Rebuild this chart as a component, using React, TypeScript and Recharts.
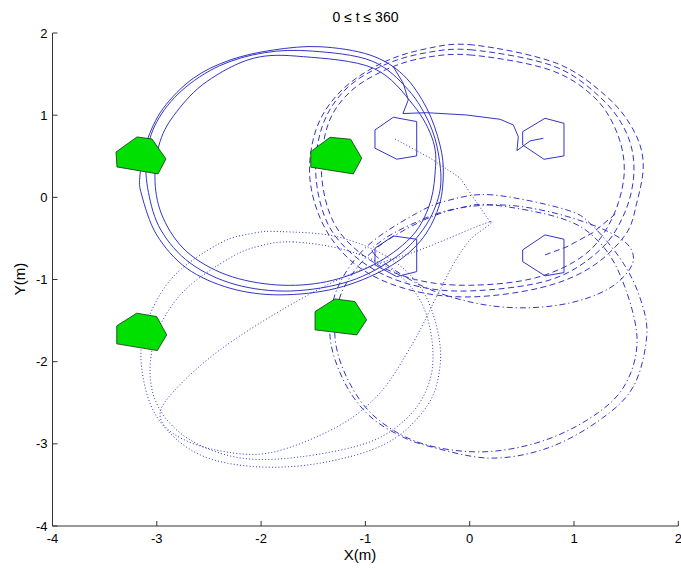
import React from 'react';
import { ComposedChart, Line, Scatter, XAxis, YAxis } from 'recharts';

type P = [number, number];

// ---------- axis ticks ----------
const xTicks = [-4, -3, -2, -1, 0, 1, 2];
const yTicks = [-4, -3, -2, -1, 0, 1, 2];
const titleText = '0 \u2264 t \u2264 360';
const xLabelText = 'X(m)';
const yLabelText = 'Y(m)';

// ---------- solid trajectory (upper-left) ----------
const solidStart: P[] = [[0.706, 0.719], [0.578, 0.686], [0.453, 0.568], [0.466, 0.738], [0.418, 0.881], [0.291, 0.95], [-0.029, 1.002], [-0.412, 1.03], [-0.64, 1.02], [-0.589, 1.185], [-0.637, 1.388], [-0.733, 1.59]];
const solidLoop1: P[] = [[-1.435, 1.833], [-0.956, 1.732], [-0.637, 1.489], [-0.412, 1.084], [-0.285, 0.637], [-0.253, 0.273], [-0.301, -0.133], [-0.477, -0.539], [-0.796, -0.863], [-1.275, -1.106], [-1.819, -1.187], [-2.298, -1.106], [-2.713, -0.863], [-3.001, -0.457], [-3.145, 0.029], [-3.161, 0.273], [-3.097, 0.678], [-2.938, 1.084], [-2.65, 1.449], [-2.298, 1.671], [-1.883, 1.793]];
const solidLoop2: P[] = [[-1.51, 1.78], [-0.94, 1.66], [-0.59, 1.31], [-0.38, 0.88], [-0.29, 0.45], [-0.29, 0.05], [-0.43, -0.36], [-0.7, -0.72], [-1.15, -1.02], [-1.72, -1.14], [-2.25, -1.06], [-2.68, -0.8], [-2.96, -0.4], [-3.08, 0.06], [-3.1, 0.5], [-3.0, 0.92], [-2.76, 1.3], [-2.4, 1.6], [-1.97, 1.76]];
const solidLoop3: P[] = [[-1.595, 1.712], [-0.924, 1.571], [-0.541, 1.124], [-0.349, 0.678], [-0.333, 0.273], [-0.397, -0.133], [-0.572, -0.498], [-0.924, -0.822], [-1.371, -1.026], [-1.85, -1.066], [-2.33, -0.944], [-2.713, -0.661], [-2.938, -0.254], [-3.017, 0.191], [-2.969, 0.678], [-2.809, 1.043], [-2.522, 1.408], [-2.075, 1.692]];

// ---------- dashed trajectory (upper-right) ----------
const dashedStart: P[] = [[0.722, -0.701], [0.933, -0.601], [1.18, -0.43], [1.4, -0.2]];
const dashedLoop1: P[] = [[0.035, 1.854], [-0.429, 1.805], [-0.86, 1.623], [-1.244, 1.282], [-1.474, 0.82], [-1.531, 0.212], [-1.378, -0.397], [-1.052, -0.859], [-0.573, -1.127], [0.003, -1.212], [0.674, -1.102], [1.153, -0.859], [1.49, -0.46], [1.601, -0.072], [1.664, 0.415], [1.569, 0.82], [1.314, 1.225], [0.834, 1.631]];
const dashedLoop2: P[] = [[0.032, 1.793], [-0.429, 1.757], [-0.841, 1.599], [-1.196, 1.306], [-1.416, 0.856], [-1.474, 0.248], [-1.34, -0.372], [-1.004, -0.81], [-0.553, -1.066], [0.003, -1.139], [0.77, -1.005], [1.249, -0.64], [1.489, -0.178], [1.575, 0.333], [1.499, 0.795], [1.249, 1.22], [0.799, 1.599]];
const dashedLoop3: P[] = [[0.03, 1.73], [-0.43, 1.7], [-0.81, 1.55], [-1.15, 1.28], [-1.36, 0.88], [-1.42, 0.27], [-1.29, -0.34], [-0.96, -0.76], [-0.52, -1.0], [0.0, -1.07], [0.63, -0.98], [1.1, -0.7], [1.36, -0.27], [1.48, 0.27], [1.42, 0.76], [1.2, 1.21], [0.77, 1.55]];

// ---------- dotted trajectory (lower-left) ----------
const dottedStart: P[] = [[-0.716, 0.71], [-0.381, 0.479], [-0.093, 0.236], [0.07, -0.068], [0.195, -0.299]];
const dottedLoop1: P[] = [[-1.819, -0.417], [-1.275, -0.478], [-0.796, -0.721], [-0.477, -1.086], [-0.317, -1.573], [-0.285, -2.06], [-0.412, -2.546], [-0.796, -2.992], [-1.435, -3.235], [-2.075, -3.276], [-2.619, -3.113], [-3.002, -2.667], [-3.146, -2.06], [-3.098, -1.532], [-2.842, -0.965], [-2.394, -0.558], [-2.075, -0.437]];
const dottedLoop2: P[] = [[-1.692, -0.543], [-1.196, -0.64], [-0.745, -0.883], [-0.477, -1.248], [-0.362, -1.735], [-0.381, -2.222], [-0.572, -2.648], [-0.956, -2.976], [-1.627, -3.159], [-2.202, -3.171], [-2.681, -2.952], [-2.969, -2.587], [-3.065, -2.137], [-2.988, -1.614], [-2.729, -1.127], [-2.298, -0.737], [-2.01, -0.591]];
const dottedLoop3: P[] = [[0.195, -0.299], [0.003, -0.518], [-0.16, -0.822], [-0.333, -1.248], [-0.544, -1.771], [-0.86, -2.38], [-1.272, -2.793], [-1.915, -3.109], [-2.442, -3.073], [-2.825, -2.89], [-2.969, -2.647], [-2.825, -2.343], [-2.394, -1.856], [-1.752, -1.333], [-1.119, -0.92], [-0.477, -0.64]];

// ---------- dash-dot trajectory (lower-right) ----------
const dashDotLoop1: P[] = [[0.226, 0.029], [-0.189, -0.032], [-0.508, -0.193], [-0.988, -0.6], [-1.275, -1.127], [-1.339, -1.695], [-1.212, -2.221], [-0.988, -2.627], [-0.7, -2.88], [-0.381, -3.033], [0.195, -3.174], [0.75, -3.05], [1.249, -2.708], [1.569, -2.303], [1.697, -1.695], [1.64, -1.25], [1.473, -0.802], [1.185, -0.356], [0.93, -0.153]];
const dashDotLoop2: P[] = [[0.223, -0.093], [-0.093, -0.129], [-0.477, -0.299], [-0.937, -0.664], [-1.225, -1.151], [-1.292, -1.698], [-1.167, -2.222], [-0.908, -2.672], [-0.477, -2.988], [0.099, -3.098], [0.674, -2.976], [1.173, -2.672], [1.489, -2.282], [1.604, -1.698], [1.442, -0.944], [1.202, -0.494], [0.866, -0.251]];
const dashDotLoop3: P[] = [[-0.908, -0.701], [-0.86, -0.543], [-0.572, -0.336], [-0.189, -0.153], [0.291, -0.092], [0.77, -0.178], [1.249, -0.372], [1.518, -0.579], [1.556, -0.822], [1.345, -1.102], [0.962, -1.285], [0.482, -1.345], [0.003, -1.273], [-0.477, -1.066]];

// ---------- obstacles (green) ----------
const obstacle1: P[] = [[-3.391, 0.552], [-3.19, 0.735], [-3.046, 0.71], [-2.912, 0.467], [-2.988, 0.285], [-3.382, 0.37], [-3.391, 0.552]];
const obstacle2: P[] = [[-1.524, 0.556], [-1.339, 0.731], [-1.141, 0.707], [-1.035, 0.476], [-1.116, 0.285], [-1.524, 0.367], [-1.524, 0.556]];
const obstacle3: P[] = [[-3.384, -1.564], [-3.193, -1.41], [-3.001, -1.451], [-2.905, -1.674], [-2.995, -1.865], [-3.384, -1.783], [-3.384, -1.564]];
const obstacle4: P[] = [[-1.483, -1.39], [-1.291, -1.236], [-1.1, -1.269], [-0.988, -1.491], [-1.083, -1.674], [-1.483, -1.613], [-1.483, -1.39]];

// ---------- robot outlines (hexagons) ----------
const robot1: P[] = [[-0.908, 0.82], [-0.732, 0.975], [-0.508, 0.922], [-0.508, 0.504], [-0.7, 0.464], [-0.908, 0.598], [-0.908, 0.82]];
const robot2: P[] = [[0.508, 0.799], [0.722, 0.962], [0.904, 0.901], [0.904, 0.504], [0.712, 0.463], [0.508, 0.637], [0.508, 0.799]];
const robot3: P[] = [[-0.908, -0.619], [-0.732, -0.47], [-0.508, -0.51], [-0.508, -0.904], [-0.7, -0.965], [-0.908, -0.822], [-0.908, -0.619]];
const robot4: P[] = [[0.508, -0.64], [0.722, -0.457], [0.904, -0.51], [0.904, -0.916], [0.722, -0.956], [0.508, -0.782], [0.508, -0.64]];

const toPts = (a: P[]) => a.map(([x, y]) => ({ x, y }));

// closed Catmull-Rom curve factory (works on library-projected points)
const closedSmooth: any = (context: any) => {
  let pts: number[][] = [];
  return {
    areaStart() {},
    areaEnd() {},
    lineStart() { pts = []; },
    point(x: number, y: number) { pts.push([+x, +y]); },
    lineEnd() {
      const n = pts.length;
      if (!n) return;
      context.moveTo(pts[0][0], pts[0][1]);
      for (let i = 0; i < n; i++) {
        const p0 = pts[(i - 1 + n) % n];
        const p1 = pts[i];
        const p2 = pts[(i + 1) % n];
        const p3 = pts[(i + 2) % n];
        context.bezierCurveTo(
          p1[0] + (p2[0] - p0[0]) / 6, p1[1] + (p2[1] - p0[1]) / 6,
          p2[0] - (p3[0] - p1[0]) / 6, p2[1] - (p3[1] - p1[1]) / 6,
          p2[0], p2[1]
        );
      }
      context.closePath();
    },
  };
};

const BLUE = '#3434c6';
const GREEN = '#00e000';
const FONT = '"Liberation Sans", Arial, Helvetica, sans-serif';

const SOLID = undefined;
const DASH = '6 3.5';
const DOT = '1 2.2';
const DASHDOT = '6 3 1.2 3';

const loops: { data: P[]; dash?: string }[] = [
  { data: solidLoop1, dash: SOLID }, { data: solidLoop2, dash: SOLID }, { data: solidLoop3, dash: SOLID },
  { data: dashedLoop1, dash: DASH }, { data: dashedLoop2, dash: DASH }, { data: dashedLoop3, dash: DASH },
  { data: dottedLoop1, dash: DOT }, { data: dottedLoop2, dash: DOT }, { data: dottedLoop3, dash: DOT },
  { data: dashDotLoop1, dash: DASHDOT }, { data: dashDotLoop2, dash: DASHDOT }, { data: dashDotLoop3, dash: DASHDOT },
];
const starts: { data: P[]; dash?: string }[] = [
  { data: solidStart, dash: SOLID },
  { data: dashedStart, dash: DASH },
  { data: dottedStart, dash: DOT },
];
const obstacles = [obstacle1, obstacle2, obstacle3, obstacle4];
const robots = [robot1, robot2, robot3, robot4];

const tickStyle = { fontSize: 13, fill: '#000', fontFamily: FONT };

export default function App() {
  return (
    <div style={{ position: 'absolute', left: 0, top: 0, width: 681, height: 568, background: '#fff' }}>
      <div style={{ position: 'absolute', left: 52.5, width: 626, top: 9, textAlign: 'center', fontFamily: FONT, fontSize: 14, lineHeight: '16px', color: '#000' }}>
        {titleText}
      </div>
      <div style={{ position: 'absolute', left: 47, width: 626, top: 546, textAlign: 'center', fontFamily: FONT, fontSize: 15, lineHeight: '17px', color: '#000' }}>
        {xLabelText}
      </div>
      <div style={{ position: 'absolute', left: 20, top: 279, width: 0, height: 0 }}>
        <div style={{ position: 'absolute', left: -40, top: -9, width: 80, textAlign: 'center', transform: 'rotate(-90deg)', fontFamily: FONT, fontSize: 15, color: '#000', lineHeight: '18px' }}>
          {yLabelText}
        </div>
      </div>
      <ComposedChart width={681} height={568} margin={{ top: 33, right: 2.7, bottom: 2, left: 2.5 }}>
        <XAxis
          type="number"
          dataKey="x"
          domain={[-4, 2]}
          ticks={xTicks}
          allowDataOverflow
          height={40}
          tickSize={-5}
          tickMargin={13}
          tick={tickStyle}
          stroke="#333"
          interval={0}
        />
        <YAxis
          type="number"
          dataKey="y"
          domain={[-4, 2]}
          ticks={yTicks}
          allowDataOverflow
          width={50}
          tickSize={-5}
          tickMargin={10}
          tick={tickStyle}
          stroke="#333"
          interval={0}
        />
        {obstacles.map((o, i) => (
          <Scatter
            key={`ob${i}`}
            data={toPts(o)}
            line={{ fill: GREEN, stroke: '#113311', strokeWidth: 0.8 }}
            lineType="joint"
            shape={() => <g />}
            fill={GREEN}
            isAnimationActive={false}
          />
        ))}
        {robots.map((r, i) => (
          <Line key={`rb${i}`} data={toPts(r)} dataKey="y" type="linear" stroke={BLUE} strokeWidth={1} dot={false} activeDot={false} isAnimationActive={false} />
        ))}
        {starts.map((s, i) => (
          <Line key={`st${i}`} data={toPts(s.data)} dataKey="y" type="linear" stroke={BLUE} strokeWidth={1} strokeDasharray={s.dash} dot={false} activeDot={false} isAnimationActive={false} />
        ))}
        {loops.map((l, i) => (
          <Line key={`lp${i}`} data={toPts(l.data)} dataKey="y" type={closedSmooth} stroke={BLUE} strokeWidth={1} strokeDasharray={l.dash} dot={false} activeDot={false} isAnimationActive={false} />
        ))}
      </ComposedChart>
    </div>
  );
}
